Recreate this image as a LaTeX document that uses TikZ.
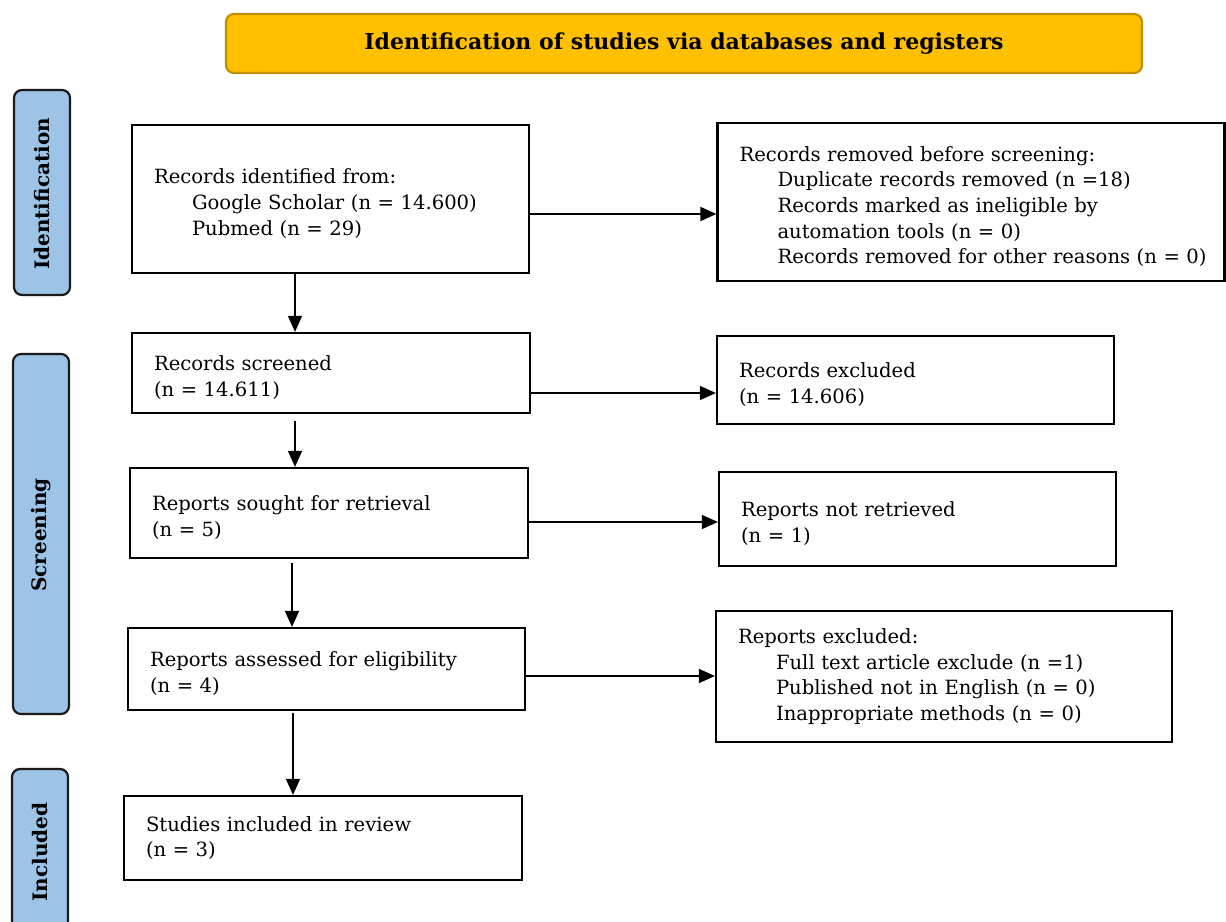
\documentclass[tikz,border=0pt]{standalone}
\usepackage{fontspec}
\setmainfont{DejaVu Serif}
\usetikzlibrary{arrows.meta}
\definecolor{titlefill}{HTML}{FFC000}
\definecolor{titledraw}{HTML}{BF9000}
\definecolor{sidefill}{HTML}{9DC3E6}
\definecolor{sidedraw}{HTML}{1A1A1A}
\tikzset{
  box/.style={draw=black, line width=2.2pt, rectangle, inner xsep=22pt, inner ysep=0pt, align=left, font=\fontsize{19.6}{25.6}\selectfont},
  sidebar/.style={draw=sidedraw, fill=sidefill, line width=2.2pt, rounded corners=8pt},
  sidetext/.style={rotate=90, font=\bfseries\fontsize{20}{22}\selectfont},
  flow/.style={line width=1.4pt, -{Triangle[length=16pt,width=14pt]}},
}
\newcommand{\ind}{\hspace*{38pt}}
\newcommand{\tsh}{\rule{0pt}{24pt}}
\begin{document}
\begin{tikzpicture}[x=1pt,y=-1pt]
\useasboundingbox (0,0) rectangle (1226,921);
% title
\node[draw=titledraw, fill=titlefill, line width=2.2pt, rounded corners=8pt, minimum width=916pt, minimum height=59pt, font=\bfseries\fontsize{22}{24}\selectfont] (title) at (684,43.5) {Identification of studies via databases and registers};
% side bars
\draw[sidebar] (14,90) rectangle (70,295);
\node[sidetext] (sid) at (42,194) {Identification};
\draw[sidebar] (13,354) rectangle (69,714);
\node[sidetext] (sscr) at (41,535) {Screening};
\draw[sidebar] (12,769) rectangle (68,935);
\node[sidetext] (sinc) at (40,852) {Included};
% left column
\node[box, text width=353pt, minimum height=148pt] (b1) at (330.5,199) {\tsh Records identified from:\\\ind Google Scholar (n = 14.600)\\\ind Pubmed (n = 29)};
\node[box, text width=354pt, minimum height=80pt] (b2) at (331,373) {\tsh Records screened\\(n = 14.611)};
\node[box, text width=354pt, minimum height=90pt] (b3) at (329,513) {\tsh Reports sought for retrieval\\(n = 5)};
\node[box, text width=353pt, minimum height=82pt] (b4) at (326.5,669) {\tsh Reports assessed for eligibility\\(n = 4)};
\node[box, text width=354pt, minimum height=84pt] (b5) at (323,838) {Studies included in review\\(n = 3)};
% right column
\node[box, text width=463pt, minimum height=158pt] (r1) at (971,202) {\tsh Records removed before screening:\\\ind Duplicate records removed (n =18)\\\ind Records marked as ineligible by\\\ind automation tools (n = 0)\\\ind \mbox{Records removed for other reasons (n = 0)}};
\node[box, text width=353pt, minimum height=88pt] (r2) at (915.5,380) {\tsh Records excluded\\(n = 14.606)};
\node[box, text width=353pt, minimum height=94pt] (r3) at (917.5,519) {\tsh Reports not retrieved\\(n = 1)};
\node[box, text width=412pt, minimum height=131pt] (r4) at (944,676.5) {Reports excluded:\\\ind Full text article exclude (n =1)\\\ind Published not in English (n = 0)\\\ind Inappropriate methods (n = 0)};
% connectors down
\draw[flow] (b1.south -| 295,0) -- (b2.north -| 295,0);
\draw[flow, shorten <=7pt] (b2.south -| 295,0) -- (b3.north -| 295,0);
\draw[flow, shorten <=4pt] (b3.south -| 292,0) -- (b4.north -| 292,0);
\draw[flow, shorten <=2pt] (b4.south -| 293,0) -- (b5.north -| 293,0);
% connectors right
\draw[flow] (b1.east |- 0,214) -- (r1.west |- 0,214);
\draw[flow] (b2.east |- 0,393) -- (r2.west |- 0,393);
\draw[flow] (b3.east |- 0,522) -- (r3.west |- 0,522);
\draw[flow] (b4.east |- 0,676) -- (r4.west |- 0,676);
\end{tikzpicture}
\end{document}
